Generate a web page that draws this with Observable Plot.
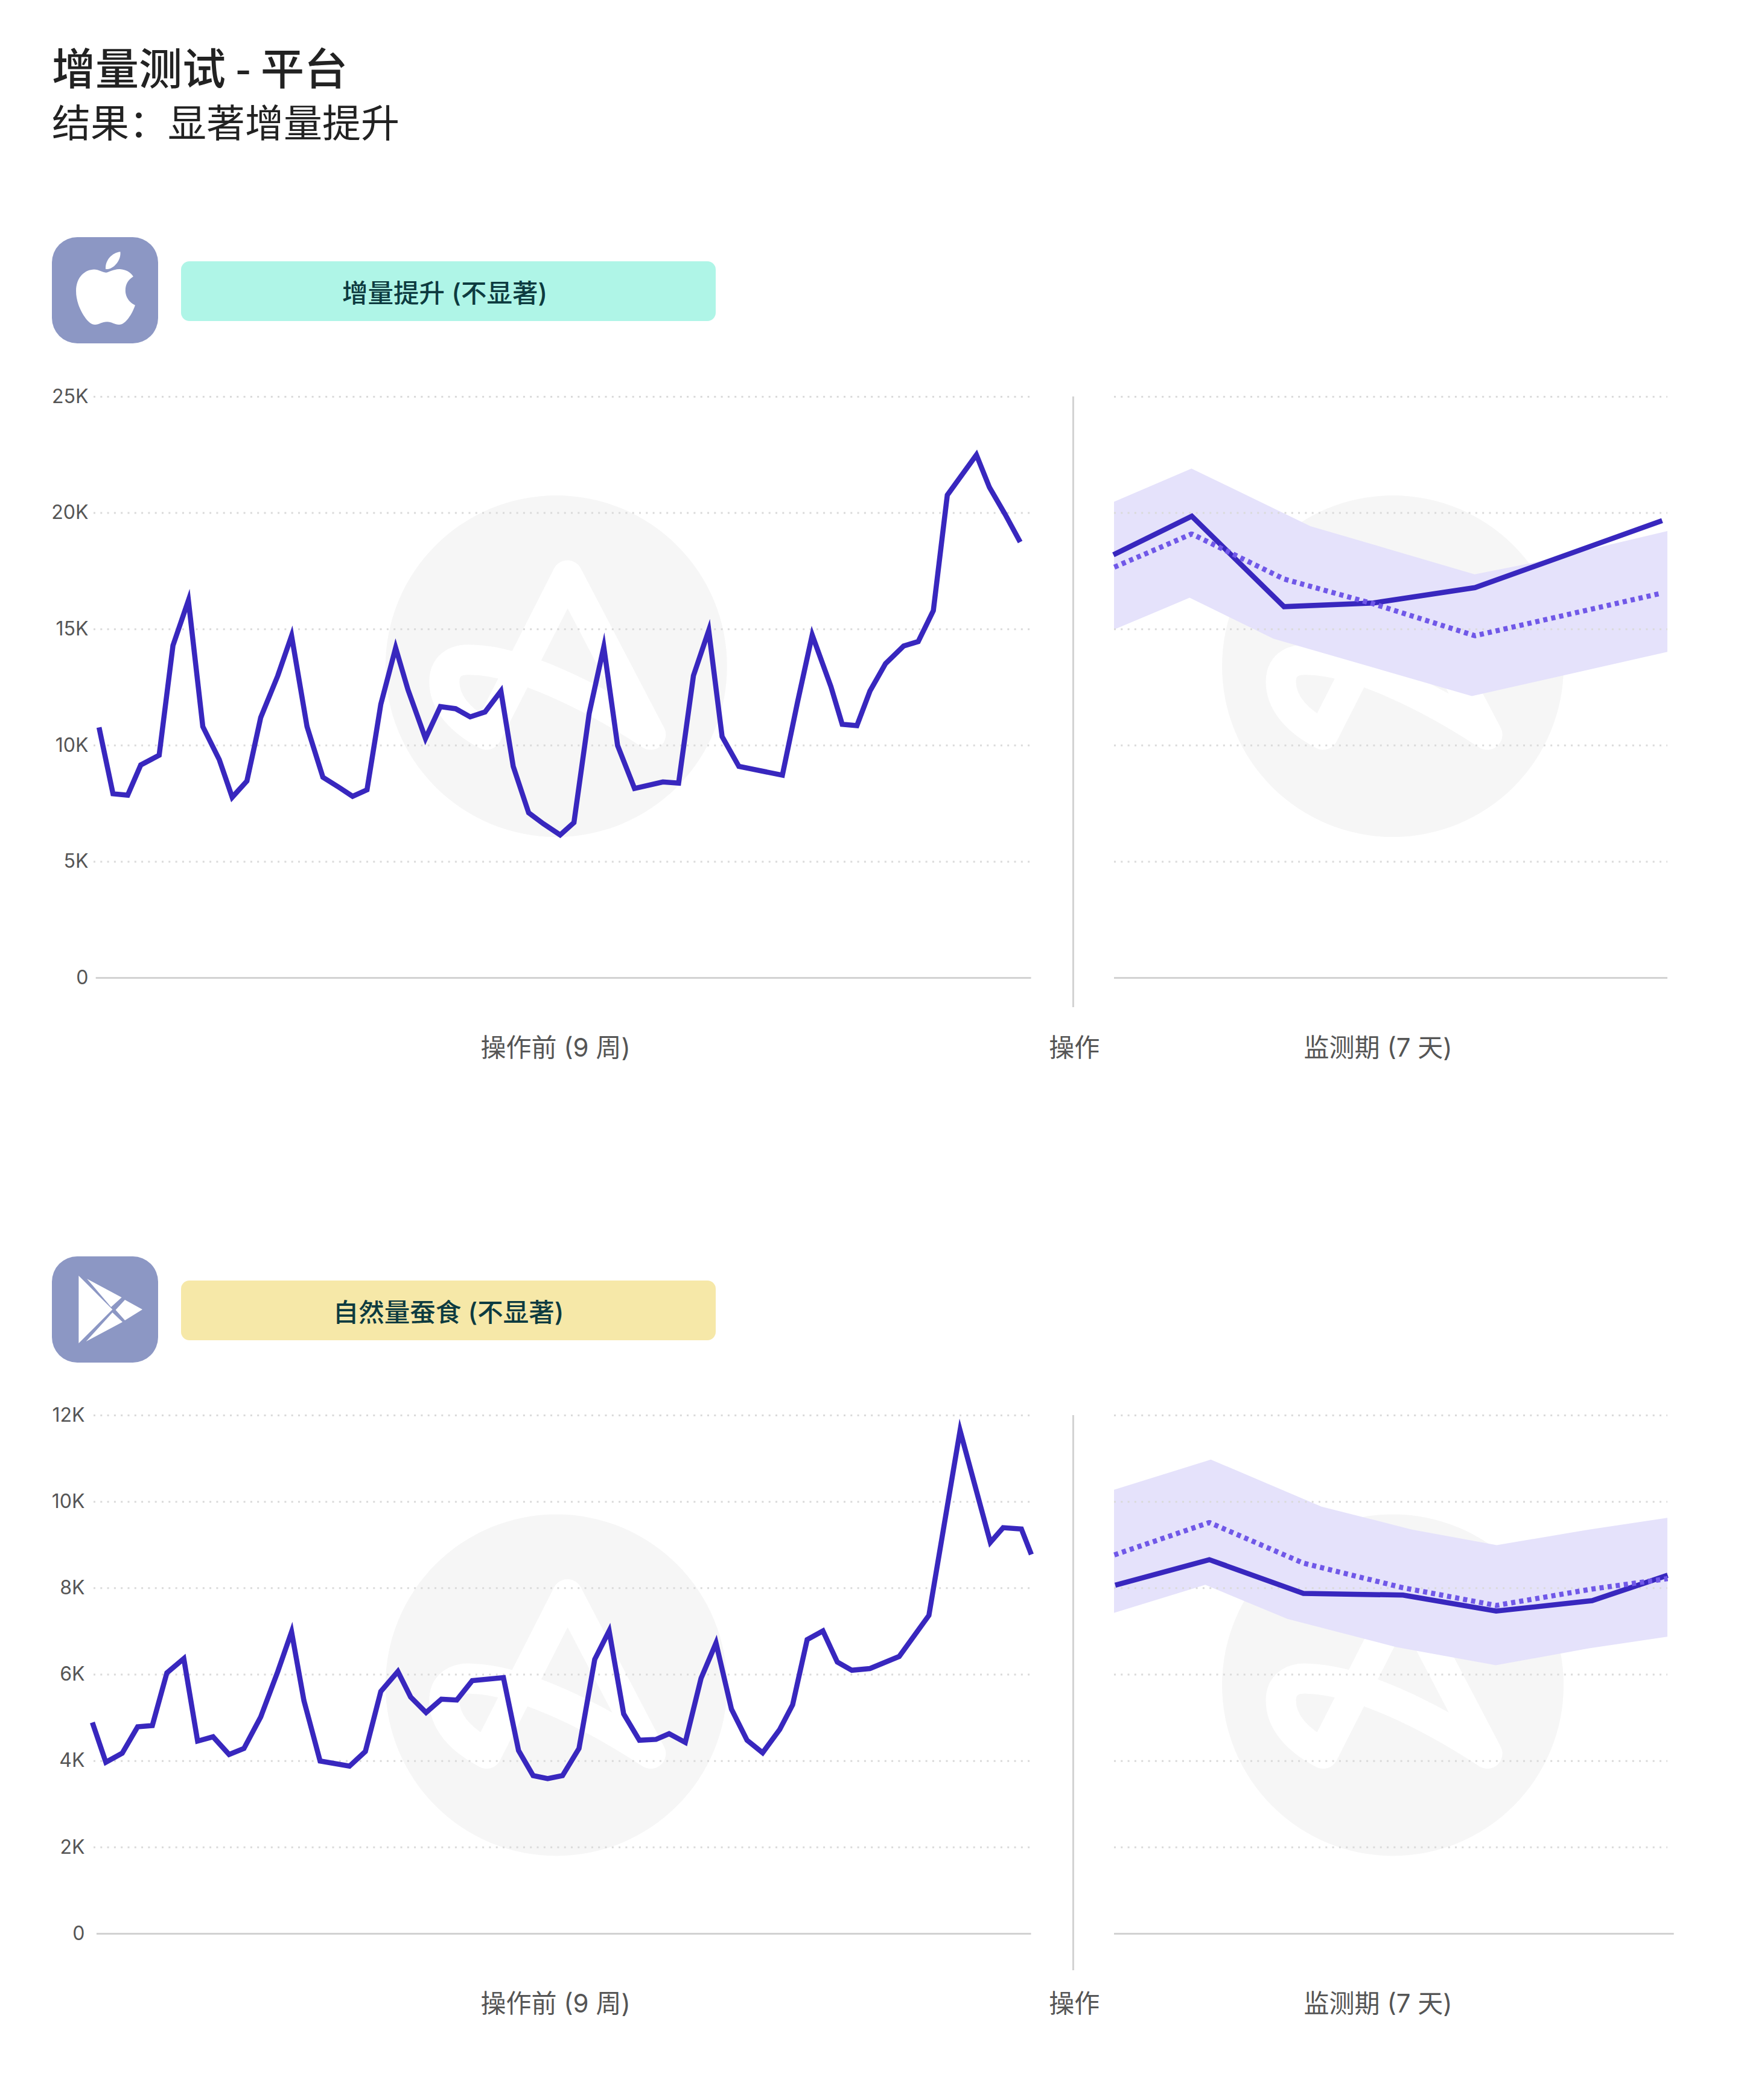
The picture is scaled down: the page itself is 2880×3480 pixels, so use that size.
<!DOCTYPE html>
<html lang="zh">
<head>
<meta charset="utf-8">
<title>增量测试 - 平台</title>
<script src="https://cdn.jsdelivr.net/npm/d3@7"></script>
<script src="https://cdn.jsdelivr.net/npm/@observablehq/plot@0.6"></script>
<style>
  html, body { margin: 0; background: #fff; }
  body { position: relative; width: 2880px; height: 3480px; overflow: hidden;
         font-family: Inter, "Noto Sans CJK SC", sans-serif; }
  .abs { position: absolute; }
  .title { left: 86px; top: 73px; font-size: 72px; line-height: 72px; font-weight: 500; color: #222; white-space: pre;
           font-family: "Noto Sans CJK SC", sans-serif; }
  .subtitle { left: 86px; top: 167px; font-size: 64px; line-height: 64px; font-weight: 400; color: #222; white-space: pre;
           font-family: "Noto Sans CJK SC", sans-serif; }
  .badge { left: 300px; width: 886px; height: 99px; border-radius: 14px; display: flex; align-items: center; justify-content: center;
           font-size: 42.5px; font-weight: 500; color: #0d3b40; box-sizing: border-box; white-space: pre;
           font-family: Inter, "Noto Sans CJK SC", sans-serif; }
  svg.plot, .abs svg { max-width: none; display: block; }
</style>
</head>
<body>
<div class="abs title">增量测试 - 平台</div>
<div class="abs subtitle">结果&#xFF1A;显著增量提升</div>

<div class="abs" style="left:86px;top:393px;width:176px;height:176px">
  <svg width="176" height="176" viewBox="0 0 176 176">
    <rect width="176" height="176" rx="42" fill="#8c97c4"/>
    <path transform="translate(39,15.5) scale(0.26,0.27)" fill="#fff" d="M318.7 268.7c-.2-36.7 16.4-64.4 50-84.8-18.8-26.9-47.2-41.7-84.7-44.6-35.5-2.8-74.3 20.7-88.5 20.7-15 0-49.4-19.7-76.4-19.7C63.3 141.2 4 184.8 4 273.5q0 39.3 14.4 81.2c12.8 36.7 59 126.7 107.2 125.2 25.2-.6 43-17.9 75.8-17.9 31.8 0 48.3 17.9 76.4 17.9 48.6-.7 90.4-82.5 102.6-119.3-65.2-30.7-61.7-90-61.7-91.9zm-56.6-164.2c27.3-32.4 24.8-61.9 24-72.5-24.1 1.4-52 16.4-67.9 34.9-17.5 19.8-27.8 44.3-25.6 71.9 26.1 2 49.9-11.4 69.5-34.3z"/>
  </svg>
</div>
<div class="abs badge" style="top:433px;background:#aff5e7;padding-right:12px">增量提升 (不显著)</div>

<div class="abs" style="left:86px;top:2082px;width:176px;height:176px">
  <svg width="176" height="176" viewBox="0 0 176 176">
    <rect width="176" height="176" rx="42" fill="#8c97c4"/>
    <g fill="#fff">
      <polygon points="44.4,32 100.3,88 44.4,144"/>
      <polygon points="58.2,37.3 115.6,68 98,84"/>
      <polygon points="121,72 150,88 121,106 105.6,88.7"/>
      <polygon points="56.6,141 117,108.7 100.3,93"/>
    </g>
  </svg>
</div>
<div class="abs badge" style="top:2122px;background:#f6e8a8;padding-right:0">自然量蚕食 (不显著)</div>

<div id="p1l" class="abs"></div>
<div id="p1r" class="abs"></div>
<div id="p2l" class="abs"></div>
<div id="p2r" class="abs"></div>

<script>
// ---------- labels ----------
const xLabelPreDays = [30.95, 65.9];
const xLabelPreText = ["操作前 (9 周)", "操作"];
const xLabelPostDays = [2.86];
const xLabelPostText = ["监测期 (7 天)"];

// ---------- panel 1: iOS ----------
const iosTicks = [0, 5000, 10000, 15000, 20000, 25000];
const iosPreDay = [0.2,1.14,2.13,3.01,4.25,5.18,6.22,7.19,8.3,9.17,10.16,11.09,12.24,13.17,14.21,15.28,16.38,17.28,18.25,19.18,20.18,21.01,22.19,23.19,24.22,25.2,26.2,27.27,28.1,29.14,30.13,31.26,32.19,33.22,34.2,35.13,36.27,38.18,39.24,40.24,41.27,42.17,43.3,46.23,47.25,48.24,49.5,50.26,51.25,52.13,53.18,54.4,55.38,56.4,57.34,59.3,60.18,61.23,62.25];
const iosPreVal = [10780,7920,7860,9160,9580,14300,16240,10810,9390,7770,8470,11200,13000,14720,10810,8630,8190,7810,8090,11770,14200,12400,10300,11670,11580,11230,11440,12340,9100,7100,6630,6150,6680,11390,14240,10000,8150,8430,8380,13000,14950,10380,9100,8720,11860,14750,12530,10910,10850,12340,13520,14280,14470,15800,20770,22500,21100,19950,18750];
const iosPostDay = [-0.01,0.84,1.84,2.81,3.91,5.94];
const iosPostVal = [18200,19860,15970,16130,16790,19670];
const iosCfDay = [0,0.84,1.84,2.81,3.91,5.91];
const iosCfVal = [17670,19100,17160,16090,14720,16530];
const iosBandTopDay = [0,0.84,2.13,3.91,4.56,6];
const iosBandTopVal = [20470,21900,19420,17350,17860,19210];
const iosBandLowDay = [0,0.82,1.73,3.88,3.88,6];
const iosBandLowVal = [14970,16340,14580,12110,12110,14010];

// ---------- panel 2: Android ----------
const andTicks = [0, 2000, 4000, 6000, 8000, 10000, 12000];
const andPreDay = [-0.25,0.66,1.76,2.8,3.79,4.77,5.91,6.84,7.88,8.96,9.96,11.09,12.24,13.17,14,15.09,17.07,18.14,19.18,20.33,21.19,22.23,23.26,24.3,25.34,27.44,28.46,29.44,30.42,31.42,32.53,33.59,34.56,35.54,36.6,37.72,38.6,39.69,40.75,41.76,42.8,43.85,44.9,46.05,46.92,47.9,48.96,49.93,50.91,52.13,54.1,56.1,58.2,60.24,61.1,62.33,63];
const andPreVal = [4890,3970,4180,4790,4820,6040,6370,4460,4560,4150,4290,5020,6070,6990,5400,4000,3880,4220,5610,6070,5480,5120,5430,5410,5860,5930,4240,3660,3590,3660,4290,6350,7010,5090,4480,4500,4630,4430,5910,6730,5200,4480,4190,4730,5300,6810,7010,6290,6100,6140,6420,7370,11650,9060,9400,9370,8780];
const andPostDay = [0.01,1.03,2.05,3.13,4.14,5.18,6];
const andPostVal = [8070,8660,7880,7840,7470,7710,8300];
const andCfDay = [0,1.03,2.05,3.13,4.14,5.18,6];
const andCfVal = [8770,9520,8580,8010,7600,7980,8220];
const andBandTopDay = [0,1.05,2.25,3.23,4.15,5.15,6];
const andBandTopVal = [10270,10970,9880,9350,8990,9350,9620];
const andBandLowDay = [0,0.99,1.88,3.06,4.14,5.15,6];
const andBandLowVal = [7420,8070,7280,6630,6210,6600,6870];

// watermark centres, in each panel's data units
const wmPreDay = 31.0, wmPostDay = 3.02, iosWmVal = 13408, andWmVal = 5756;

const ink = "#3827be", cf = "#7058e8", band = "#e5e2fb", axisLine = "#d2d2d2", gridCol = "#dadada", wmCol = "#f6f6f6";
const lineW = 8.5;
const gridStyle = {stroke: gridCol, strokeOpacity: 1, strokeWidth: 3, strokeDasharray: "3 8.3"};
const zip = (xs, ys) => xs.map((x, i) => ({x, y: ys[i]}));
const kfmt = d => d === 0 ? "0" : d / 1000 + "K";
const plotStyle = {background: "transparent", color: "#555", fontFamily: 'Inter, "Noto Sans CJK SC", sans-serif'};

// white glyph inside the watermark disc
function wmGlyph(day, val) {
  return (index, {x, y}) => {
    const g = d3.create("svg:g").attr("transform", `translate(${x(day)},${y(val)})`);
    g.append("path")
      .attr("d", "M-115,114 L19,-150 L157,114 M-115,114 C-160,90 -185,60 -185,26 C-185,-5 -160,-12 -138,-10 C-60,-8 60,50 157,114")
      .attr("fill", "none").attr("stroke", "#fff").attr("stroke-width", 50)
      .attr("stroke-linecap", "round").attr("stroke-linejoin", "round");
    return g.node();
  };
}

function preChart(o) {
  return Plot.plot({
    width: 1850, height: o.height,
    marginLeft: 155, marginRight: 141.5, marginTop: o.marginTop, marginBottom: o.marginBottom,
    style: plotStyle,
    x: {domain: [-0.15, 63], axis: null},
    y: {domain: o.yDomain, axis: null},
    marks: [
      Plot.dot([{x: wmPreDay, y: o.wmVal}], {x: "x", y: "y", r: 283, fill: wmCol}),
      wmGlyph(wmPreDay, o.wmVal),
      Plot.gridY(o.ticks.filter(d => d > 0), gridStyle),
      Plot.ruleY([0], {x1: o.baseFrom, x2: 63, stroke: axisLine, strokeWidth: 3}),
      Plot.ruleX([65.82], {y1: o.yDomain[1], y2: o.ruleEnd, stroke: axisLine, strokeWidth: 3}),
      Plot.axisY({ticks: o.ticks, tickFormat: kfmt, tickSize: 0, tickPadding: o.yPad, fontSize: 32, anchor: "left", label: null, fontVariant: "normal"}),
      Plot.axisX({ticks: xLabelPreDays, tickFormat: d => xLabelPreText[xLabelPreDays.indexOf(d)], tickSize: 0, tickPadding: o.xPad, fontSize: 42, label: null, anchor: "bottom", fontVariant: "normal"}),
      Plot.line(zip(o.days, o.vals), {x: "x", y: "y", stroke: ink, strokeWidth: lineW, strokeLinejoin: "miter", strokeLinecap: "butt", strokeMiterlimit: 10})
    ]
  });
}

function postChart(o) {
  const pairs = o.topDay.map((d, i) => ({x1: d, y1: o.topVal[i], x2: o.lowDay[i], y2: o.lowVal[i]}));
  return Plot.plot({
    width: 1050, height: o.height,
    marginLeft: 16, marginRight: 117, marginTop: o.marginTop, marginBottom: o.marginBottom,
    style: plotStyle,
    x: {domain: [0, 6], axis: null},
    y: {domain: o.yDomain, axis: null},
    marks: [
      Plot.dot([{x: wmPostDay, y: o.wmVal}], {x: "x", y: "y", r: 283, fill: wmCol}),
      wmGlyph(wmPostDay, o.wmVal),
      Plot.area(pairs, {x1: "x1", y1: "y1", x2: "x2", y2: "y2", fill: band}),
      Plot.gridY(o.ticks.filter(d => d > 0), gridStyle),
      Plot.ruleY([0], {x1: 0, x2: o.baseTo, stroke: axisLine, strokeWidth: 3}),
      Plot.axisX({ticks: xLabelPostDays, tickFormat: d => xLabelPostText[xLabelPostDays.indexOf(d)], tickSize: 0, tickPadding: o.xPad, fontSize: 42, label: null, anchor: "bottom", fontVariant: "normal"}),
      Plot.line(zip(o.days, o.vals), {x: "x", y: "y", stroke: ink, strokeWidth: lineW, strokeLinejoin: "miter", strokeLinecap: "butt", strokeMiterlimit: 10}),
      Plot.line(zip(o.cfDay, o.cfVal), {x: "x", y: "y", stroke: cf, strokeWidth: lineW, strokeDasharray: "7 6.5", strokeLinejoin: "miter", strokeLinecap: "butt"})
    ]
  });
}

function place(id, left, top, node) {
  const el = document.getElementById(id);
  el.style.left = left + "px";
  el.style.top = top + "px";
  el.appendChild(node);
}

// panel frames: iOS y from 657 to 1620, Android y from 2345 to 3204 on the page
const ios = {height: 1180, marginTop: 57, marginBottom: 160, yDomain: [0, 25000], ticks: iosTicks, wmVal: iosWmVal};
const and = {height: 1090, marginTop: 45, marginBottom: 186, yDomain: [0, 12000], ticks: andTicks, wmVal: andWmVal};

place("p1l", 0, 600, preChart({...ios, days: iosPreDay, vals: iosPreVal, baseFrom: 0, ruleEnd: -1272, yPad: 9, xPad: 101}));
place("p1r", 1830, 600, postChart({...ios, days: iosPostDay, vals: iosPostVal, cfDay: iosCfDay, cfVal: iosCfVal, topDay: iosBandTopDay, topVal: iosBandTopVal, lowDay: iosBandLowDay, lowVal: iosBandLowVal, baseTo: 6, xPad: 101}));
place("p2l", 0, 2300, preChart({...and, days: andPreDay, vals: andPreVal, baseFrom: 0.05, ruleEnd: -852, yPad: 15, xPad: 101}));
place("p2r", 1830, 2300, postChart({...and, days: andPostDay, vals: andPostVal, cfDay: andCfDay, cfVal: andCfVal, topDay: andBandTopDay, topVal: andBandTopVal, lowDay: andBandLowDay, lowVal: andBandLowVal, baseTo: 6.07, xPad: 101}));
</script>
</body>
</html>
